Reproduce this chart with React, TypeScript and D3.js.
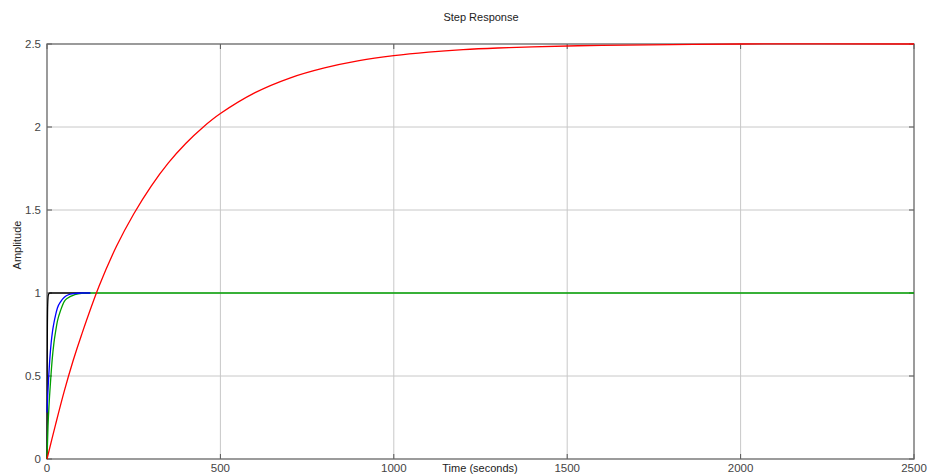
import React from "react";
import * as d3 from "d3";

// time samples (seconds) and amplitudes
const redT = [0, 25, 50, 75, 100, 150, 200, 250, 300, 350, 400, 450, 500, 600, 700, 800, 900, 1000, 1100, 1200, 1300, 1400, 1600, 1800, 2000, 2500];
const redY = [0, 0.21, 0.41, 0.59, 0.75, 1.04, 1.28, 1.476, 1.643, 1.784, 1.901, 1.999, 2.081, 2.207, 2.295, 2.356, 2.4, 2.43, 2.451, 2.466, 2.476, 2.483, 2.492, 2.496, 2.5, 2.5];

const blueT = [0, 2, 5, 8, 12, 16, 20, 25, 30, 40, 50, 60, 80, 100, 125];
const blueY = [0.28, 0.38, 0.5, 0.6, 0.7, 0.77, 0.82, 0.87, 0.91, 0.95, 0.975, 0.988, 0.997, 1, 1];

const greenT = [0, 3, 6, 10, 15, 20, 25, 30, 40, 50, 60, 80, 100, 125, 2500];
const greenY = [0, 0.2, 0.33, 0.46, 0.6, 0.7, 0.77, 0.83, 0.9, 0.95, 0.97, 0.99, 0.998, 1, 1];

const blackT = [0, 0.5, 1, 2, 4, 8, 30, 60, 125];
const blackY = [0, 0.5, 0.75, 0.93, 0.99, 1, 1, 1, 1];

const xTicks = [0, 500, 1000, 1500, 2000, 2500];
const yTicks = [0, 0.5, 1, 1.5, 2, 2.5];

const W = 931;
const H = 476;
const margin = { left: 47, right: 17, top: 44, bottom: 17 };

const font = "Liberation Sans, Arial, Helvetica, sans-serif";

const App = () => {
  const x = d3.scaleLinear().domain([0, 2500]).range([margin.left, W - margin.right]);
  const y = d3.scaleLinear().domain([0, 2.5]).range([H - margin.bottom, margin.top]);

  const mkLine = (curve: d3.CurveFactory) =>
    d3
      .line<[number, number]>()
      .x((d) => x(d[0]))
      .y((d) => y(d[1]))
      .curve(curve);

  const zip = (ts: number[], ys: number[]) => ts.map((t, i) => [t, ys[i]] as [number, number]);

  const series = [
    { color: "#000000", pts: zip(blackT, blackY), curve: d3.curveMonotoneX },
    { color: "#00a000", pts: zip(greenT, greenY), curve: d3.curveMonotoneX },
    { color: "#0000ff", pts: zip(blueT, blueY), curve: d3.curveMonotoneX },
    { color: "#ff0000", pts: zip(redT, redY), curve: d3.curveCatmullRom.alpha(0.5) },
  ];

  const x0 = x(0), x1 = x(2500), y0 = y(0), y1 = y(2.5);

  return (
    <div style={{ position: "absolute", left: 0, top: 0 }}>
      <svg width={W} height={H} style={{ display: "block", background: "#fff" }}>
        {/* grid */}
        <g stroke="#c8c8c8" strokeWidth={1}>
          {xTicks.slice(1, -1).map((t) => (
            <line key={"gx" + t} x1={x(t)} x2={x(t)} y1={y1} y2={y0} />
          ))}
          {yTicks.slice(1, -1).map((t) => (
            <line key={"gy" + t} x1={x0} x2={x1} y1={y(t)} y2={y(t)} />
          ))}
        </g>

        {/* ticks inside the box */}
        <g stroke="#555" strokeWidth={1}>
          {xTicks.map((t) => (
            <g key={"tx" + t}>
              <line x1={x(t)} x2={x(t)} y1={y0} y2={y0 - 5} />
              <line x1={x(t)} x2={x(t)} y1={y1} y2={y1 + 5} />
            </g>
          ))}
          {yTicks.map((t) => (
            <g key={"ty" + t}>
              <line x1={x0} x2={x0 + 5} y1={y(t)} y2={y(t)} />
              <line x1={x1} x2={x1 - 5} y1={y(t)} y2={y(t)} />
            </g>
          ))}
        </g>

        {/* box */}
        <rect x={x0} y={y1} width={x1 - x0} height={y0 - y1} fill="none" stroke="#666" strokeWidth={1.3} />

        {/* curves */}
        <g fill="none" strokeWidth={1.3}>
          {series.map((s, i) => (
            <path key={i} d={mkLine(s.curve)(s.pts) || ""} stroke={s.color} />
          ))}
        </g>

        {/* tick labels */}
        <g fontFamily={font} fontSize={11.5} fill="#444">
          {xTicks.map((t) => (
            <text key={"lx" + t} x={x(t)} y={y0 + 13} textAnchor="middle">
              {t}
            </text>
          ))}
          {yTicks.map((t) => (
            <text key={"ly" + t} x={x0 - 6} y={y(t) + 4} textAnchor="end">
              {t}
            </text>
          ))}
        </g>

        {/* titles */}
        <text x={481} y={21} textAnchor="middle" fontFamily={font} fontSize={11} fill="#222">
          Step Response
        </text>
        <text x={480} y={472} textAnchor="middle" fontFamily={font} fontSize={11} fill="#222">
          Time (seconds)
        </text>
        <text
          transform={`translate(21, ${245}) rotate(-90)`}
          textAnchor="middle"
          fontFamily={font}
          fontSize={11}
          fill="#222"
        >
          Amplitude
        </text>
      </svg>
    </div>
  );
};

export default App;
